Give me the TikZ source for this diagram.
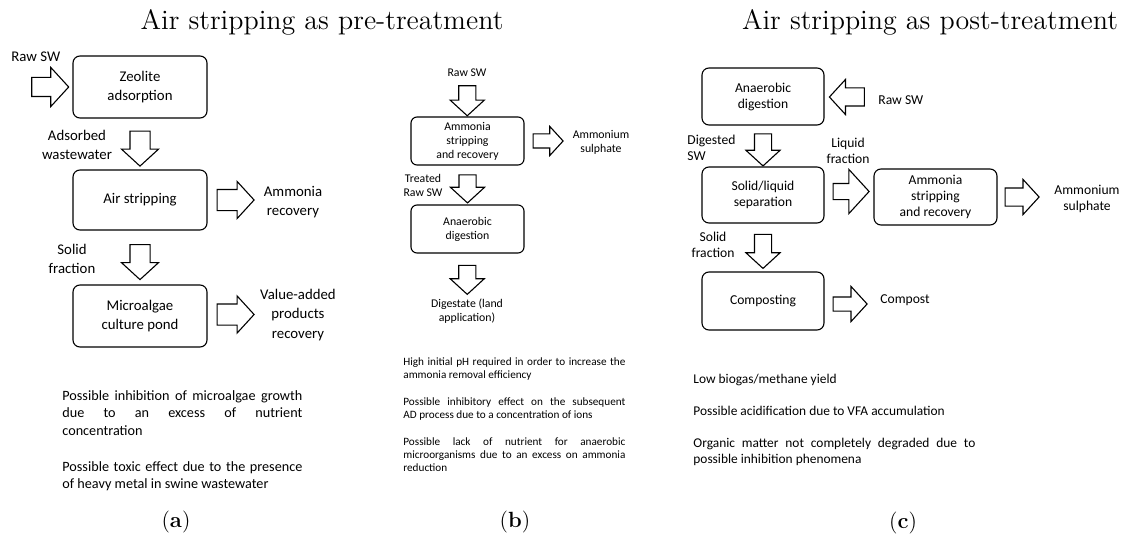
\documentclass[tikz,border=0pt]{standalone}
\usepackage{fontspec}
\setsansfont{Carlito}
\usetikzlibrary{shapes.arrows,positioning,calc}
\hyphenpenalty=10000
\tolerance=9999

\begin{document}
\begin{tikzpicture}[
    x=0.5pt, y=-0.5pt, font=\sffamily,
    box/.style={draw, rounded corners=3.5pt, align=center, inner sep=1pt, line width=0.55pt},
    flow/.style n args={3}{draw, single arrow, single arrow tip angle=95, inner sep=0pt, line width=0.55pt,
      minimum height=#1, inner ysep=#2, single arrow head extend=#3},
    lbl/.style={align=center, inner sep=0pt},
    note/.style={anchor=north west, align=justify, inner sep=0pt},
    head/.style={font=\rmfamily\fontsize{14}{16}\selectfont},
    tag/.style={font=\rmfamily\fontsize{11}{13}\selectfont},
    sa/.style={font=\sffamily\fontsize{7.4}{9.6}\selectfont},
    sb/.style={font=\sffamily\fontsize{5.9}{7}\selectfont},
    sc/.style={font=\sffamily\fontsize{6.8}{8}\selectfont}
  ]
  \useasboundingbox (0,0) rectangle (1130,535);

  % (a) air stripping as pre-treatment
  \node[head] (ttlA) at (322,22) {Air stripping as pre-treatment};
  \node[box, sa, minimum width=67pt, minimum height=31pt] (zeo) at (140,87) {Zeolite\\adsorption};
  \node[box, sa, minimum width=67pt, minimum height=30pt] (strA) at (140,200) {Air stripping};
  \node[box, sa, minimum width=67pt, minimum height=31pt] (alg) at (140,316) {Microalgae\\culture pond};
  \node[flow={18.5pt}{4.5pt}{5pt}, left=1.5pt of zeo] (inA) {};
  \node[lbl, sa, anchor=west] (rawA) at (11,57) {Raw SW};
  \node[flow={17.5pt}{4.75pt}{4.25pt}, rotate=-90] (dA1) at ($(zeo.south)!.5!(strA.north)$) {};
  \node[lbl, sa] (adsA) at (77,145) {Adsorbed\\wastewater};
  \node[flow={18.5pt}{5pt}{4pt}, right=4.5pt of strA] (rA1) {};
  \node[lbl, sa] (recA) at (293,202) {Ammonia\\recovery};
  \node[flow={17.5pt}{4.75pt}{4.25pt}, rotate=-90] (dA2) at ($(strA.south)!.5!(alg.north)$) {};
  \node[lbl, sa] (solA) at (72,259) {Solid\\fraction};
  \node[flow={18.5pt}{5pt}{4pt}, right=4.5pt of alg, yshift=0.75pt] (rA2) {};
  \node[lbl, sa] (valA) at (298,315) {Value-added\\products\\recovery};
  \node[note, text width=120pt, font=\sffamily\fontsize{7.1}{8.75}\selectfont] (noteA) at (62,390)
    {Possible inhibition of microalgae growth\linebreak due to an excess of nutrient\linebreak concentration\par\vspace{9.25pt}
     Possible toxic effect due to the presence\linebreak of heavy metal in swine wastewater\par};
  \node[tag] (tagA) at (176,522) {(\textbf{a})};

  % (b) ammonia stripping before digestion
  \node[lbl, sb] (rawB) at (467,73) {Raw SW};
  \node[box, sb, rounded corners=3pt, minimum width=56.5pt, minimum height=24pt] (strB) at (467.5,141) {Ammonia\\stripping\\and recovery};
  \node[flow={15pt}{4pt}{4.25pt}, rotate=-90] (dB1) at ($(rawB.south)!.5!(strB.north)$) {};
  \node[flow={15pt}{3.25pt}{3.75pt}, right=4pt of strB] (rB) {};
  \node[lbl, sb] (sulB) at (601,142.5) {Ammonium\\sulphate};
  \node[lbl, sb] (treB) at (423,185) {Treated\\Raw SW};
  \node[box, sb, rounded corners=3pt, minimum width=56.5pt, minimum height=24pt] (anB) at (467.5,229) {Anaerobic\\digestion};
  \node[flow={14pt}{4pt}{4.25pt}, rotate=-90] (dB2) at ($(strB.south)!.5!(anB.north)$) {};
  \node[lbl, sb] (digB) at (467,311) {Digestate (land\\application)};
  \node[flow={14.5pt}{4pt}{4.25pt}, rotate=-90] (dB3) at ($(anB.south)!.5!(digB.north)$) {};
  \node[note, text width=111pt, font=\sffamily\fontsize{5.6}{6.6}\selectfont] (noteB) at (403,357)
    {High initial pH required in order to increase the\linebreak ammonia removal efficiency\par\vspace{6.8pt}
     Possible inhibitory effect on the subsequent\linebreak AD process due to a concentration of ions\par\vspace{6.8pt}
     Possible lack of nutrient for anaerobic\linebreak microorganisms due to an excess on ammonia\linebreak reduction\par};
  \node[tag] (tagB) at (515,522) {(\textbf{b})};

  % (c) air stripping as post-treatment
  \node[head] (ttlC) at (930,22) {Air stripping as post-treatment};
  \node[box, sc, minimum width=61pt, minimum height=28.5pt] (anC) at (763,96.5) {Anaerobic\\digestion};
  \node[flow={17.5pt}{4.25pt}{4.25pt}, rotate=180] (lC) at ($(anC.east)+(26.5,0.5)$) {};
  \node[lbl, sc, anchor=west] (rawC) at (878,100) {Raw SW};
  \node[box, sc, minimum width=61pt, minimum height=28pt] (sepC) at (763,195) {Solid/liquid\\separation};
  \node[flow={16pt}{4pt}{4.25pt}, rotate=-90] (dC1) at ($(anC.south)!.5!(sepC.north)$) {};
  \node[lbl, sc, align=left, anchor=west] (digC) at (687,148) {Digested\\SW};
  \node[lbl, sc] (liqC) at (848,151) {Liquid\\fraction};
  \node[flow={18pt}{3.75pt}{7pt}, right=4pt of sepC, yshift=1.75pt] (rC1) {};
  \node[box, sc, minimum width=61.5pt, minimum height=28pt] (strC) at (935.5,197) {Ammonia\\stripping\\and recovery};
  \node[flow={17pt}{4.25pt}{4.25pt}, right=3.5pt of strC] (rC2) {};
  \node[lbl, sc] (sulC) at (1087,199) {Ammonium\\sulphate};
  \node[box, sc, minimum width=61pt, minimum height=29pt] (compC) at (763,301) {Composting};
  \node[flow={17pt}{4pt}{4.25pt}, rotate=-90] (dC2) at ($(sepC.south)!.5!(compC.north)$) {};
  \node[lbl, sc] (solC) at (713,245) {Solid\\fraction};
  \node[flow={17pt}{3.25pt}{5.25pt}, right=4pt of compC, yshift=-1.5pt] (rC3) {};
  \node[lbl, sc, anchor=west] (cmpC) at (880,300) {Compost};
  \node[note, text width=141pt, font=\sffamily\fontsize{6.7}{8}\selectfont] (noteC) at (693,374)
    {Low biogas/methane yield\par\vspace{8pt}
     Possible acidification due to VFA accumulation\par\vspace{8pt}
     Organic matter not completely degraded due to possible inhibition phenomena\par};
  \node[tag] (tagC) at (903,523) {(\textbf{c})};
\end{tikzpicture}
\end{document}
